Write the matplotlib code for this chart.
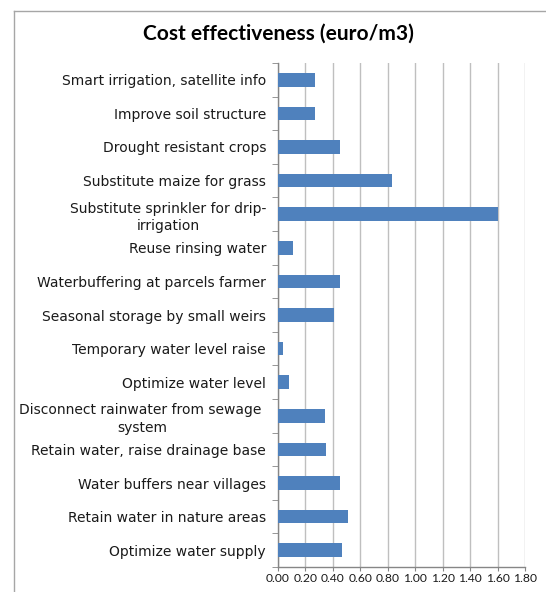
import matplotlib
matplotlib.use("Agg")
import matplotlib.pyplot as plt
from matplotlib.lines import Line2D
import numpy as np

categories = [
    "Smart irrigation, satellite info",
    "Improve soil structure",
    "Drought resistant crops",
    "Substitute maize for grass",
    "Substitute sprinkler for drip-\nirrigation",
    "Reuse rinsing water",
    "Waterbuffering at parcels farmer",
    "Seasonal storage by small weirs",
    "Temporary water level raise",
    "Optimize water level",
    "Disconnect rainwater from sewage \nsystem",
    "Retain water, raise drainage base",
    "Water buffers near villages",
    "Retain water in nature areas",
    "Optimize water supply",
]
values = [0.27, 0.27, 0.45, 0.83, 1.60, 0.11, 0.45, 0.41, 0.04, 0.08, 0.34, 0.35, 0.45, 0.51, 0.47]
xticks = [0.0, 0.2, 0.4, 0.6, 0.8, 1.0, 1.2, 1.4, 1.6, 1.8]
xticklabels = ["0.00", "0.20", "0.40", "0.60", "0.80", "1.00", "1.20", "1.40", "1.60", "1.80"]
title = "Cost effectiveness (euro/m3)"

W, H = 546, 592
fig = plt.figure(figsize=(W / 100, H / 100), dpi=100)
ax = fig.add_axes([278 / W, (H - 567) / H, (525 - 278) / W, (567 - 63) / H])

n = len(categories)
ypos = np.arange(n)
ax.barh(ypos, values, height=0.4, color="#4F81BD", zorder=3)
ax.set_ylim(n - 0.5, -0.5)
ax.set_xlim(0, 1.8)

ax.set_yticks(ypos)
ax.set_yticklabels(categories, fontsize=10, color="#1a1a1a", family="DejaVu Sans",
                   multialignment="center", linespacing=1.3)
ax.tick_params(axis="y", which="major", length=0, pad=8.6)
ax.set_yticks(np.arange(-0.5, n, 1.0), minor=True)
ax.tick_params(axis="y", which="minor", length=4, color="#868686", direction="out")

ax.set_xticks(xticks)
ax.set_xticklabels(xticklabels, fontsize=8.7, family="Lato", color="#1a1a1a")
ax.tick_params(axis="x", which="major", length=3, color="#868686", direction="out", pad=1.5)

ax.grid(axis="x", color="#BFBFBF", linewidth=1.0, zorder=0)
for s in ["top", "right"]:
    ax.spines[s].set_visible(False)
for s in ["left", "bottom"]:
    ax.spines[s].set_color("#868686")
    ax.spines[s].set_linewidth(1.0)

fig.text(278 / W, 1 - 34 / H, title, ha="center", va="center", fontsize=15,
         fontweight="bold", family="Lato", color="#000000")

# chart area frame
frame_color = "#A6A6A6"
fig.add_artist(Line2D([14 / W, 14 / W], [0, 1 - 11 / H], transform=fig.transFigure,
                      color=frame_color, linewidth=1.0))
fig.add_artist(Line2D([14 / W, 1], [1 - 11 / H, 1 - 11 / H], transform=fig.transFigure,
                      color=frame_color, linewidth=1.0))

fig.savefig("out.png", dpi=100)
